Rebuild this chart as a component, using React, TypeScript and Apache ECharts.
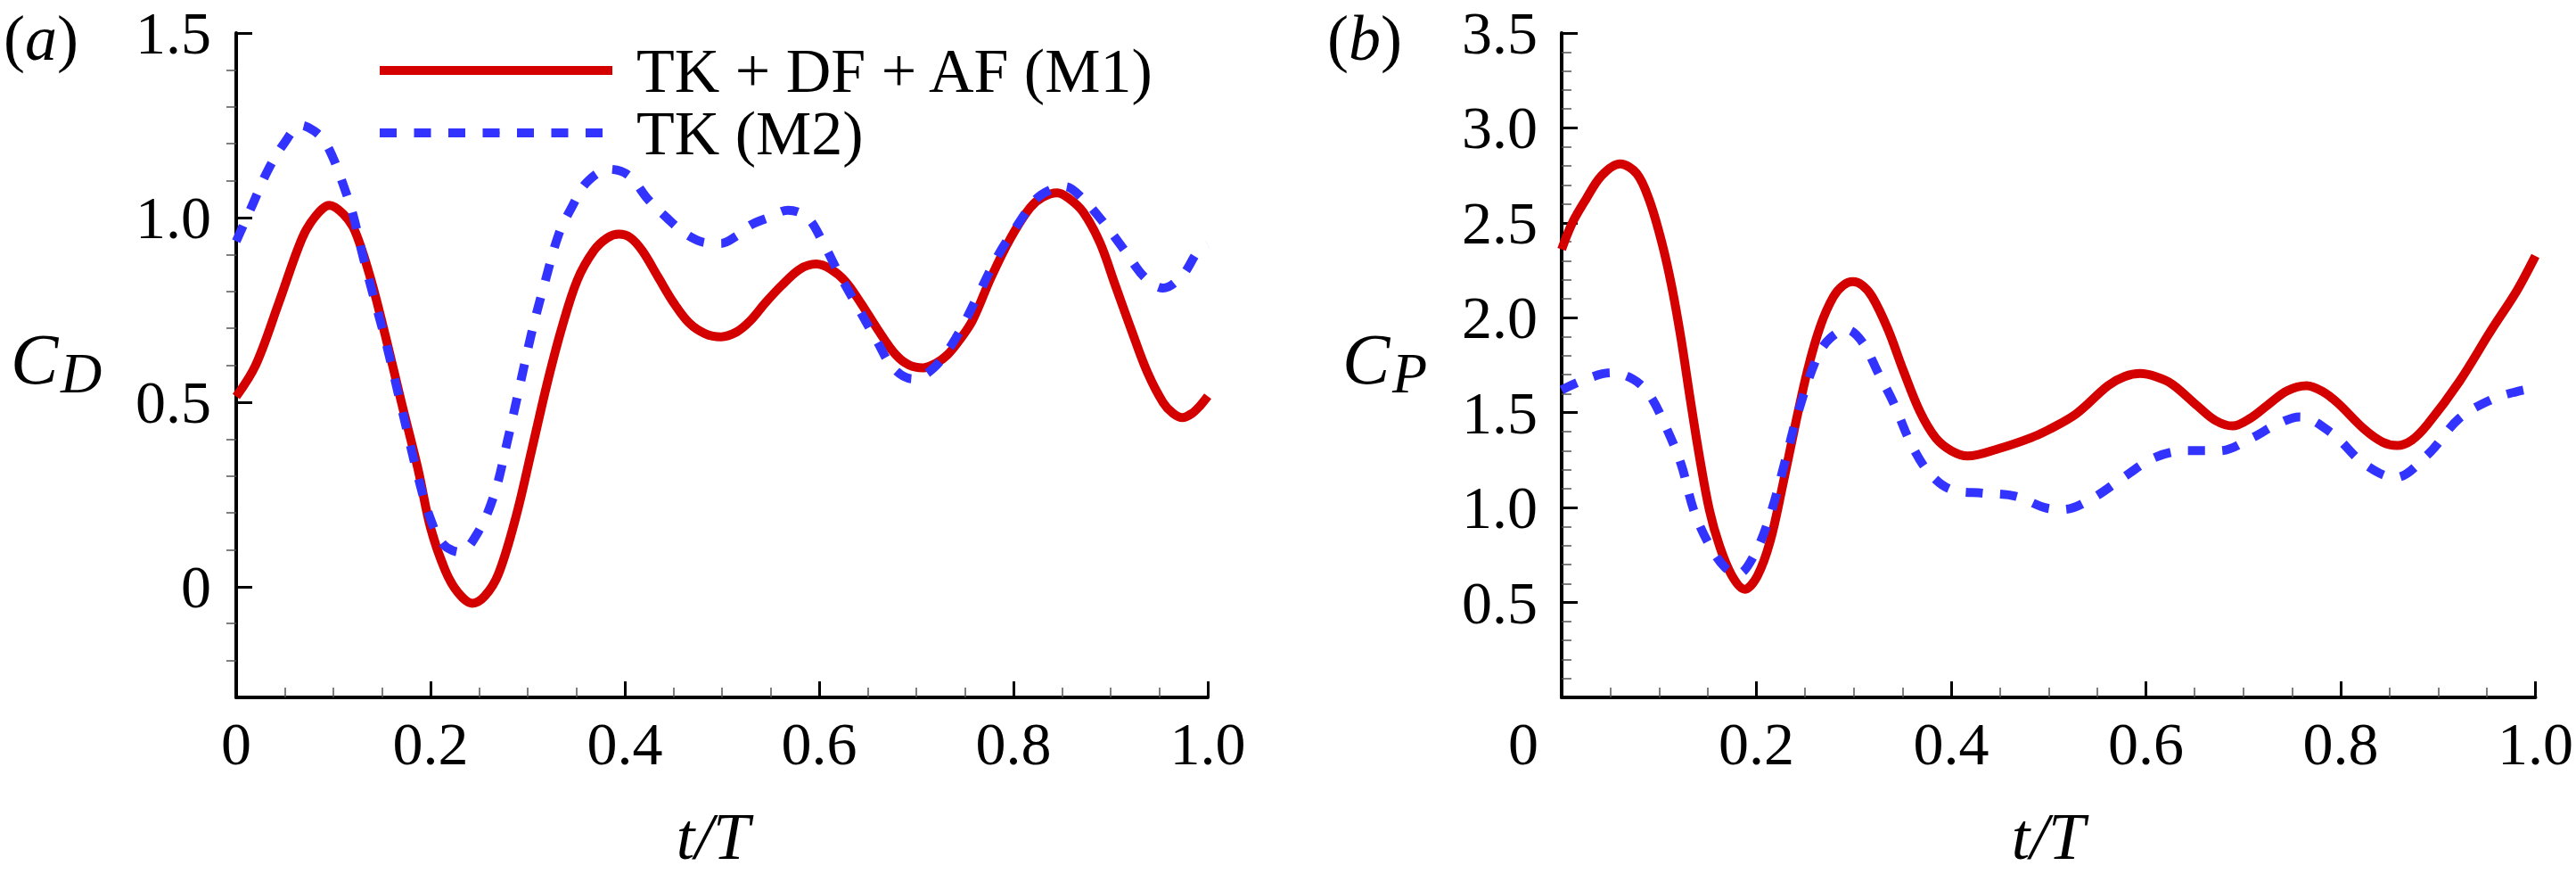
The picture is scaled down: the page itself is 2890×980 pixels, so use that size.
import React, { useEffect, useRef } from 'react';
import * as echarts from 'echarts';

const SERIES_M1 = 'TK + DF + AF (M1)';
const SERIES_M2 = 'TK (M2)';
const RED = '#d40000';
const BLUE = '#3333ff';
const SERIF = 'Liberation Serif';

// [t/T, C_D]
const cdM1: number[][] = [
  [0, 0.515], [0.02, 0.6], [0.044, 0.77], [0.068, 0.945], [0.082, 1.005], [0.096, 1.033],
  [0.11, 1.01], [0.122, 0.965], [0.138, 0.838], [0.154, 0.675], [0.17, 0.5], [0.187, 0.32],
  [0.2, 0.16], [0.215, 0.045], [0.228, -0.015], [0.243, -0.045], [0.256, -0.025], [0.27, 0.035],
  [0.288, 0.19], [0.305, 0.38], [0.32, 0.55], [0.335, 0.7], [0.351, 0.83], [0.368, 0.91],
  [0.382, 0.945], [0.394, 0.955], [0.406, 0.945], [0.418, 0.91], [0.434, 0.84], [0.45, 0.77],
  [0.466, 0.715], [0.483, 0.685], [0.499, 0.677], [0.515, 0.69], [0.529, 0.72], [0.545, 0.77],
  [0.561, 0.815], [0.58, 0.86], [0.597, 0.874], [0.612, 0.86], [0.627, 0.827], [0.643, 0.768],
  [0.66, 0.698], [0.679, 0.628], [0.693, 0.6], [0.707, 0.593], [0.72, 0.605], [0.732, 0.628],
  [0.745, 0.67], [0.758, 0.722], [0.777, 0.838], [0.797, 0.944], [0.817, 1.026], [0.83, 1.055],
  [0.845, 1.067], [0.858, 1.05], [0.872, 1.014], [0.889, 0.932], [0.905, 0.815], [0.921, 0.698],
  [0.938, 0.58], [0.954, 0.499], [0.964, 0.47], [0.974, 0.458], [0.984, 0.47], [0.992, 0.49],
  [1.0, 0.516],
];

const cdM2: number[][] = [
  [0, 0.936], [0.016, 1.03], [0.032, 1.125], [0.049, 1.2], [0.067, 1.25], [0.08, 1.235],
  [0.09, 1.21], [0.1, 1.16], [0.11, 1.09], [0.12, 1.01], [0.13, 0.9], [0.14, 0.8],
  [0.154, 0.663], [0.17, 0.487], [0.187, 0.3], [0.2, 0.183], [0.213, 0.115], [0.23, 0.094],
  [0.249, 0.148], [0.266, 0.253], [0.279, 0.393], [0.292, 0.546], [0.305, 0.698], [0.318, 0.827],
  [0.332, 0.955], [0.345, 1.026], [0.361, 1.096], [0.384, 1.131], [0.404, 1.114], [0.424, 1.049],
  [0.443, 1.0], [0.463, 0.955], [0.483, 0.932], [0.499, 0.93], [0.515, 0.95], [0.529, 0.979],
  [0.548, 1.0], [0.568, 1.02], [0.588, 1.0], [0.604, 0.932], [0.62, 0.85], [0.64, 0.756],
  [0.66, 0.663], [0.676, 0.593], [0.696, 0.563], [0.718, 0.593], [0.741, 0.675], [0.764, 0.792],
  [0.784, 0.897], [0.804, 0.979], [0.823, 1.049], [0.838, 1.075], [0.853, 1.084], [0.872, 1.049],
  [0.895, 0.979], [0.915, 0.909], [0.935, 0.838], [0.954, 0.809], [0.974, 0.844], [0.99, 0.909],
  [1.0, 0.926],
];

// [t/T, C_P]
const cpM1: number[][] = [
  [0, 2.36], [0.011, 2.5], [0.0245, 2.62], [0.041, 2.748], [0.06, 2.81], [0.077, 2.76],
  [0.09, 2.62], [0.103, 2.394], [0.113, 2.166], [0.1225, 1.893], [0.132, 1.573], [0.142, 1.254],
  [0.152, 0.981], [0.162, 0.8], [0.175, 0.64], [0.188, 0.57], [0.201, 0.64], [0.214, 0.82],
  [0.227, 1.117], [0.24, 1.437], [0.253, 1.733], [0.266, 1.961], [0.279, 2.11], [0.289, 2.17],
  [0.299, 2.19], [0.309, 2.17], [0.319, 2.11], [0.335, 1.94], [0.351, 1.72], [0.368, 1.505],
  [0.384, 1.368], [0.4, 1.3], [0.417, 1.272], [0.449, 1.311], [0.482, 1.368], [0.5, 1.41],
  [0.5285, 1.494], [0.561, 1.642], [0.578, 1.69], [0.594, 1.706], [0.61, 1.69], [0.627, 1.65],
  [0.653, 1.535], [0.671, 1.46], [0.689, 1.43], [0.707, 1.47], [0.725, 1.54], [0.745, 1.615],
  [0.765, 1.642], [0.782, 1.61], [0.797, 1.551], [0.824, 1.414], [0.843, 1.345], [0.858, 1.327],
  [0.873, 1.355], [0.889, 1.437], [0.922, 1.665], [0.955, 1.938], [0.981, 2.143], [1.0, 2.326],
];

const cpM2: number[][] = [
  [0, 1.62], [0.0245, 1.676], [0.051, 1.71], [0.0735, 1.676], [0.09, 1.596], [0.106, 1.437],
  [0.1225, 1.231], [0.136, 0.981], [0.152, 0.8], [0.168, 0.684], [0.181, 0.65], [0.198, 0.753],
  [0.214, 0.958], [0.23, 1.254], [0.243, 1.505], [0.263, 1.8], [0.276, 1.893], [0.2925, 1.938],
  [0.309, 1.87], [0.325, 1.71], [0.341, 1.55], [0.358, 1.345], [0.377, 1.186], [0.4, 1.095],
  [0.433, 1.076], [0.466, 1.06], [0.496, 1.0], [0.515, 0.99], [0.545, 1.049], [0.578, 1.163],
  [0.61, 1.266], [0.643, 1.3], [0.676, 1.3], [0.709, 1.368], [0.735, 1.44], [0.758, 1.478],
  [0.791, 1.391], [0.824, 1.231], [0.856, 1.158], [0.889, 1.277], [0.922, 1.471], [0.955, 1.569],
  [0.98, 1.61], [1.0, 1.63],
];

// C_D axis runs from -0.3, so its ticks are listed instead of stepped
const cdMajorTicks = [0, 0.5, 1.0, 1.5];
const cdMinorTicks = [-0.2, -0.1, 0.1, 0.2, 0.3, 0.4, 0.6, 0.7, 0.8, 0.9, 1.1, 1.2, 1.3, 1.4];

const fmt = (v: number) => (v === 0 ? '0' : v.toFixed(1));

const labelFont = { color: '#000', fontFamily: SERIF, fontSize: 68 };
const axisLine = { show: true, onZero: false, lineStyle: { color: '#000', width: 4 } };
const majorTick = { show: true, inside: true, length: 18, lineStyle: { color: '#000', width: 3 } };
const minorTickStyle = { show: true, length: 11, lineStyle: { color: '#555', width: 1.5 } };

const lineSeries = (name: string, data: number[][], color: string, dashed: boolean, axis: number, yAxis: number) => ({
  name,
  type: 'line',
  xAxisIndex: axis,
  yAxisIndex: yAxis,
  data,
  smooth: 0.35,
  symbol: 'none',
  color,
  lineStyle: { color, width: 10, type: dashed ? [19, 19.5] : 'solid', cap: 'butt', join: 'round' },
});

const italicText = (text: string, x: number, y: number, size: number, align = 'left') => ({
  type: 'text',
  x,
  y,
  silent: true,
  style: {
    text,
    fill: '#000',
    fontFamily: SERIF,
    fontSize: size,
    fontStyle: 'italic',
    align,
    verticalAlign: 'middle',
    textAlign: align,
    textVerticalAlign: 'middle',
  },
});

const panelTag = (letter: string, x: number) => ({
  type: 'text',
  x,
  y: 43,
  silent: true,
  style: {
    text: `{n|(}{i|${letter}}{n|)}`,
    fill: '#000',
    fontFamily: SERIF,
    fontSize: 72,
    verticalAlign: 'middle',
    textVerticalAlign: 'middle',
    rich: {
      n: { fontFamily: SERIF, fontSize: 72, fill: '#000' },
      i: { fontFamily: SERIF, fontSize: 72, fontStyle: 'italic', fill: '#000' },
    },
  },
});

const App: React.FC = () => {
  const chartRef = useRef<HTMLDivElement>(null);

  useEffect(() => {
    document.body.style.margin = '0';
    if (!chartRef.current) return;
    const chart = echarts.init(chartRef.current, undefined, { renderer: 'svg' });

    const option = {
      animation: false,
      backgroundColor: '#fff',
      grid: [
        { left: 265, top: 37, width: 1090, height: 745 },
        { left: 1752, top: 37, width: 1093, height: 745 },
      ],
      legend: {
        left: 421,
        top: 44,
        orient: 'vertical',
        padding: 0,
        itemGap: 0,
        itemWidth: 261,
        itemHeight: 10,
        selectedMode: false,
        data: [SERIES_M1, SERIES_M2],
        lineStyle: { width: 10 },
        textStyle: { fontFamily: SERIF, fontSize: 70, color: '#000', padding: [0, 0, 0, 22] },
      },
      xAxis: [0, 1].map((g) => ({
        gridIndex: g,
        type: 'value',
        min: 0,
        max: 1,
        interval: 0.2,
        axisLine,
        axisTick: majorTick,
        minorTick: { ...minorTickStyle, splitNumber: 4 },
        splitLine: { show: false },
        minorSplitLine: { show: false },
        axisLabel: g === 0
          ? { ...labelFont, margin: 18, formatter: fmt }
          : {
              ...labelFont,
              margin: 18,
              formatter: (v: number) => (v === 0 ? '{z|0}' : v.toFixed(1)),
              rich: { z: { ...labelFont, padding: [0, 86, 0, 0] } },
            },
      })),
      yAxis: [
        {
          gridIndex: 0,
          type: 'value',
          min: -0.3,
          max: 1.5,
          axisLine,
          axisTick: { ...majorTick, customValues: cdMajorTicks },
          axisLabel: { ...labelFont, margin: 28, customValues: cdMajorTicks, formatter: fmt },
          splitLine: { show: false },
        },
        {
          gridIndex: 0,
          type: 'value',
          min: -0.3,
          max: 1.5,
          axisLine: { show: false },
          axisTick: { ...minorTickStyle, inside: true, customValues: cdMinorTicks },
          axisLabel: { show: false },
          splitLine: { show: false },
        },
        {
          gridIndex: 1,
          type: 'value',
          min: 0,
          max: 3.5,
          interval: 0.5,
          axisLine,
          axisTick: majorTick,
          minorTick: { ...minorTickStyle, splitNumber: 5 },
          splitLine: { show: false },
          minorSplitLine: { show: false },
          axisLabel: { ...labelFont, margin: 27, showMinLabel: false, formatter: fmt },
        },
      ],
      series: [
        lineSeries(SERIES_M1, cdM1, RED, false, 0, 0),
        lineSeries(SERIES_M2, cdM2, BLUE, true, 0, 0),
        lineSeries(SERIES_M1, cpM1, RED, false, 1, 2),
        lineSeries(SERIES_M2, cpM2, BLUE, true, 1, 2),
      ],
      graphic: [
        panelTag('a', 4),
        panelTag('b', 1489),
        italicText('C', 12, 403, 80),
        italicText('D', 68, 418, 64),
        italicText('C', 1506, 403, 80),
        italicText('P', 1562, 418, 64),
        italicText('t/T', 800, 938, 74, 'center'),
        italicText('t/T', 2298, 938, 74, 'center'),
      ],
    };

    chart.setOption(option as any);
    return () => chart.dispose();
  }, []);

  return <div ref={chartRef} style={{ width: 2890, height: 980 }} />;
};

export default App;
